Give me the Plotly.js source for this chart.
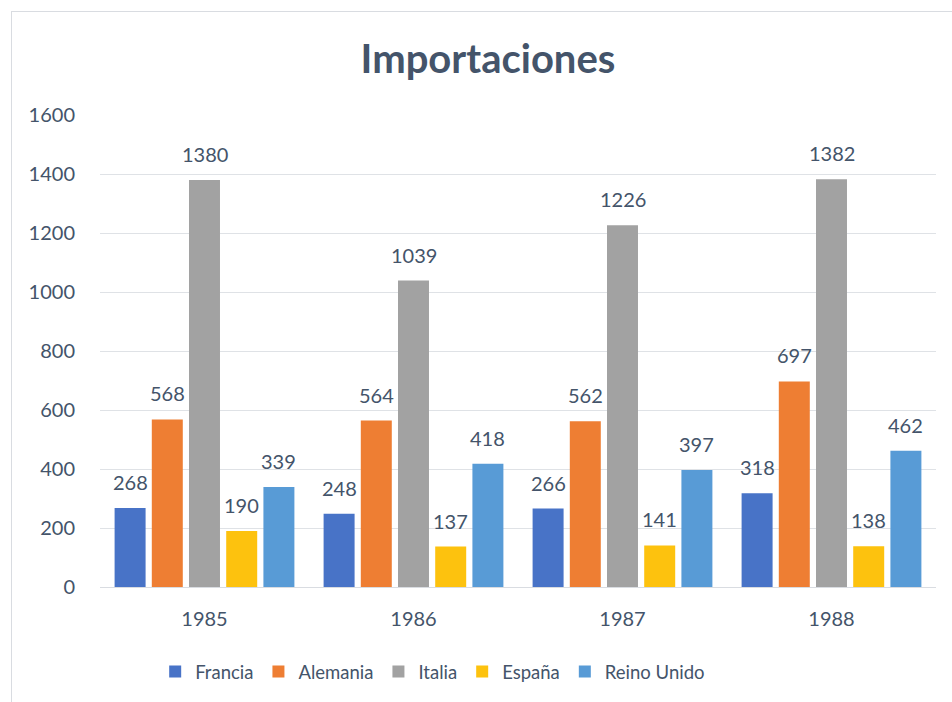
<!DOCTYPE html>
<html>
<head>
<meta charset="utf-8">
<script src="https://cdn.plot.ly/plotly-3.0.1.min.js"></script>
<style>
  html, body { margin: 0; padding: 0; background: #ffffff; }
  #wrap { position: relative; width: 952px; height: 702px; overflow: hidden; }
  #frame { position: absolute; left: 11px; top: 11px; width: 960px; height: 720px; border: 1px solid #d9dce1; box-sizing: border-box; pointer-events: none; }
  #chart { position: absolute; left: 0; top: 0; width: 952px; height: 702px; }
</style>
</head>
<body>
<div id="wrap">
  <div id="chart"></div>
  <div id="frame"></div>
</div>
<script>
// ---- data ----
const years = ['1985', '1986', '1987', '1988'];
const seriesNames = ['Francia', 'Alemania', 'Italia', 'España', 'Reino Unido'];
const francia = [268, 248, 266, 318];
const alemania = [568, 564, 562, 697];
const italia = [1380, 1039, 1226, 1382];
const espana = [190, 137, 141, 138];
const reinoUnido = [339, 418, 397, 462];
const yTicks = [0, 200, 400, 600, 800, 1000, 1200, 1400, 1600];

// ---- styling ----
const seriesValues = [francia, alemania, italia, espana, reinoUnido];
const colors = ['#4873c7', '#ee7e33', '#a2a2a2', '#fdc20e', '#589bd6'];
const textColor = '#44546a';
const fontFamily = 'Lato, "Open Sans", sans-serif';

const traces = seriesValues.map((vals, i) => ({
  type: 'bar',
  name: seriesNames[i],
  x: years,
  y: vals,
  marker: { color: colors[i], line: { width: 0 } },
  hoverinfo: 'x+y+name'
}));

// data labels as annotations (offset within group computed from bar layout)
const bargap = 0.11;
const bargroupgap = 0.167;
const nS = seriesValues.length;
const annotations = [];
seriesValues.forEach((vals, i) => {
  vals.forEach((v, j) => {
    annotations.push({
      x: j + (-(1 - bargap) / 2 + (1 - bargap) / nS * (i + 0.5)),
      y: v,
      xref: 'x', yref: 'y',
      text: String(v),
      showarrow: false,
      yanchor: 'bottom',
      yshift: 12,
      font: { family: fontFamily, size: 20, color: textColor }
    });
  });
});

const layout = {
  width: 952,
  height: 702,
  paper_bgcolor: '#ffffff',
  plot_bgcolor: '#ffffff',
  margin: { l: 100, r: 16, t: 115, b: 115 },
  barmode: 'group',
  bargap: bargap,
  bargroupgap: bargroupgap,
  title: {
    text: '<b>Importaciones</b>',
    x: 0.5126, xanchor: 'center', xref: 'container',
    y: 1 - 59 / 702, yanchor: 'middle', yref: 'container',
    font: { family: fontFamily, size: 40, color: textColor }
  },
  xaxis: {
    type: 'category',
    showgrid: false,
    showline: true,
    linecolor: '#d9dce1',
    linewidth: 1,
    ticks: '',
    ticklabelstandoff: 14,
    tickfont: { family: fontFamily, size: 20, color: textColor },
    zeroline: false
  },
  yaxis: {
    range: [0, 1600],
    tickvals: yTicks,
    ticktext: yTicks.map(String),
    showgrid: true,
    gridcolor: '#dfe2e6',
    gridwidth: 1,
    zeroline: false,
    showline: false,
    ticks: '',
    ticklabelstandoff: 24,
    tickfont: { family: fontFamily, size: 20, color: textColor }
  },
  legend: {
    orientation: 'h',
    x: 0.4545, xref: 'container', xanchor: 'center',
    y: 1 - 672 / 702, yref: 'container', yanchor: 'middle',
    font: { family: fontFamily, size: 18.5, color: textColor },
    itemwidth: 30,
    traceorder: 'normal'
  },
  annotations: annotations,
  showlegend: true
};

Plotly.newPlot('chart', traces, layout, { displayModeBar: false, staticPlot: true });
</script>
</body>
</html>
